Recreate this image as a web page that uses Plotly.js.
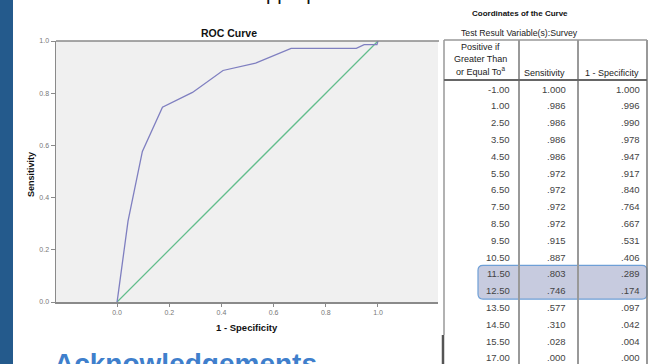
<!DOCTYPE html>
<html><head><meta charset="utf-8">
<script src="https://cdn.plot.ly/plotly-3.0.1.min.js"></script>
<style>html,body{margin:0;padding:0;background:#fff;}#chart{width:653px;height:364px;}</style>
</head><body><div id="chart"></div>
<script>
// ---- data ----
const thresholds = [-1.00, 1.00, 2.50, 3.50, 4.50, 5.50, 6.50, 7.50, 8.50, 9.50, 10.50, 11.50, 12.50, 13.50, 14.50, 15.50, 17.00];
const sensitivity = [1.000, .986, .986, .986, .986, .972, .972, .972, .972, .915, .887, .803, .746, .577, .310, .028, .000];
const oneMinusSpecificity = [1.000, .996, .990, .978, .947, .917, .840, .764, .667, .531, .406, .289, .174, .097, .042, .004, .000];
const refX = [0, 1];
const refY = [0, 1];
const xTicks = [0, 0.2, 0.4, 0.6, 0.8, 1.0];
const yTicks = [0, 0.2, 0.4, 0.6, 0.8, 1.0];
const highlighted = [11.50, 12.50];

const W = 653, H = 364;
const px = x => x / W;
const py = y => 1 - y / H;
const FONT = 'Liberation Sans, Arial, sans-serif';

const fmt3 = v => v >= 1 ? v.toFixed(3) : v.toFixed(3).replace(/^0/, '');

const traces = [
  {x: refX, y: refY, mode: 'lines', line: {color: '#62bd8c', width: 1.3}, hoverinfo: 'skip', showlegend: false},
  {x: oneMinusSpecificity, y: sensitivity, mode: 'lines', line: {color: '#7f7fc0', width: 1.3}, showlegend: false}
];

const shapes = [];
const annotations = [];
// left blue band
shapes.push({type: 'rect', xref: 'paper', yref: 'paper', x0: 0, x1: px(13), y0: 0, y1: 1, fillcolor: '#245a8c', line: {width: 0}});
// top border of plot frame
shapes.push({type: 'line', xref: 'paper', yref: 'paper', x0: px(56), x1: px(439), y0: py(41), y1: py(41), line: {color: '#8a8a8a', width: 1.5}});

// ---- table geometry ----
const tLeft = 444, tRight = 647, tTop = 40, hdrBottom = 80;
const c1 = 519, c2 = 578;
const row0 = 89, rowH = 16.8;
const lineC = '#999';
const vline = (x, y0, y1, c, w) => shapes.push({type: 'line', xref: 'paper', yref: 'paper', x0: px(x), x1: px(x), y0: py(y0), y1: py(y1), line: {color: c, width: w}});
const hline = (y, x0, x1, c, w) => shapes.push({type: 'line', xref: 'paper', yref: 'paper', x0: px(x0), x1: px(x1), y0: py(y), y1: py(y), line: {color: c, width: w}});

// highlight rounded box
(function(){
  const i0 = thresholds.indexOf(highlighted[0]);
  const i1 = thresholds.indexOf(highlighted[highlighted.length - 1]);
  const x0 = 478, x1 = 647, y0 = row0 + i0 * rowH - 8.5, y1 = row0 + i1 * rowH + 8.5, r = 5;
  const P = (x, y) => px(x) + ',' + py(y);
  const path = 'M' + P(x0 + r, y0) + ' L' + P(x1 - r, y0) + ' Q' + P(x1, y0) + ' ' + P(x1, y0 + r) +
    ' L' + P(x1, y1 - r) + ' Q' + P(x1, y1) + ' ' + P(x1 - r, y1) +
    ' L' + P(x0 + r, y1) + ' Q' + P(x0, y1) + ' ' + P(x0, y1 - r) +
    ' L' + P(x0, y0 + r) + ' Q' + P(x0, y0) + ' ' + P(x0 + r, y0) + ' Z';
  shapes.push({type: 'path', xref: 'paper', yref: 'paper', path: path, fillcolor: 'rgba(115,125,175,0.40)', line: {color: '#6e9fd6', width: 1.2}});
})();

vline(tLeft, tTop, 335, lineC, 1.5);
vline(443, 335, 364, '#555', 2.5);
vline(tRight, tTop, 364, '#777', 1.5);
vline(c1, tTop, 364, lineC, 2);
vline(c2, tTop, 364, lineC, 2);
hline(tTop, tLeft, tRight, lineC, 1.5);
hline(hdrBottom, tLeft, tRight, '#666', 1.8);

const txt = (x, y, text, opts) => annotations.push(Object.assign({xref: 'paper', yref: 'paper', x: px(x), y: py(y), text: text, showarrow: false,
  xanchor: 'center', yanchor: 'middle', font: {family: FONT, size: 9, color: '#222'}}, opts || {}));

// table titles and header
txt(520, 14, '<b>Coordinates of the Curve</b>', {font: {family: FONT, size: 8, color: '#111'}});
txt(459, 33, 'Test Result Variable(s):Survey', {xanchor: 'left', font: {family: FONT, size: 8.7, color: '#222'}});
txt(480, 47, 'Positive if');
txt(480, 59, 'Greater Than');
txt(480, 71, 'or Equal To<sup>a</sup>');
txt(544, 73, 'Sensitivity');
txt(612, 73, '1 - Specificity');

// table body
const bodyFont = {family: FONT, size: 9.5, color: '#444'};
thresholds.forEach((t, i) => {
  const y = row0 + i * rowH;
  txt(512, y, t.toFixed(2), {xanchor: 'right', font: bodyFont});
  txt(568, y, fmt3(sensitivity[i]), {xanchor: 'right', font: bodyFont});
  txt(642, y, fmt3(oneMinusSpecificity[i]), {xanchor: 'right', font: bodyFont});
});

// chart titles
txt(229, 33, '<b>ROC Curve</b>', {font: {family: FONT, size: 10.5, color: '#111'}});
txt(247, 327, '<b>1 - Specificity</b>', {font: {family: FONT, size: 9.5, color: '#111'}});
txt(31, 175, '<b>Sensitivity</b>', {textangle: -90, font: {family: FONT, size: 9, color: '#111'}});

// slide texts (partly outside the visible slide area)
txt(52, 381, '<b>Acknowledgements</b>', {xanchor: 'left', yanchor: 'bottom', font: {family: FONT, size: 28, color: '#3f7fcc'}});
txt(305, 6, 'appropriate', {yanchor: 'bottom', font: {family: FONT, size: 20, color: '#111'}});

const layout = {
  width: W, height: H,
  margin: {l: 0, r: 0, t: 0, b: 0},
  paper_bgcolor: '#ffffff',
  plot_bgcolor: '#f0f0f0',
  showlegend: false,
  xaxis: {domain: [px(56), px(438)], range: [-0.234, 1.23], tickvals: xTicks, ticktext: xTicks.map(v => v.toFixed(1)),
    showgrid: false, zeroline: false, showline: true, linecolor: '#8a8a8a', linewidth: 1.5,
    ticks: 'outside', ticklen: 3, tickcolor: '#8a8a8a', tickwidth: 1,
    tickfont: {family: FONT, size: 7, color: '#777'}, fixedrange: true},
  yaxis: {domain: [py(302), py(41)], range: [0, 1], tickvals: yTicks, ticktext: yTicks.map(v => v.toFixed(1)),
    showgrid: false, zeroline: false, showline: true, linecolor: '#8a8a8a', linewidth: 1.5,
    ticks: 'outside', ticklen: 4, tickcolor: '#8a8a8a', tickwidth: 1,
    tickfont: {family: FONT, size: 7, color: '#777'}, fixedrange: true},
  shapes: shapes,
  annotations: annotations
};

Plotly.newPlot('chart', traces, layout, {displayModeBar: false, staticPlot: true});
</script>
</body></html>
